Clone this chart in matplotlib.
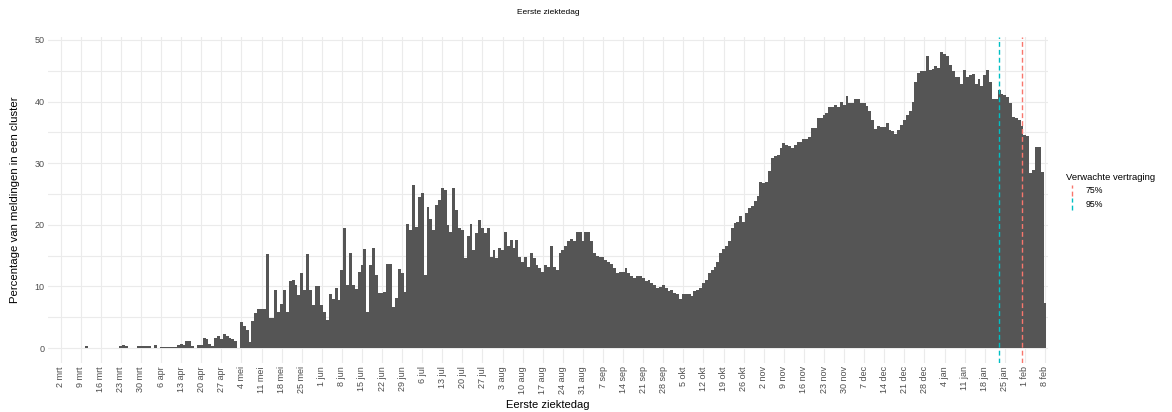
import pandas as pd
import matplotlib
matplotlib.use('Agg')
import matplotlib.pyplot as plt
from matplotlib.lines import Line2D
from matplotlib.legend_handler import HandlerBase

# Lettertype: Arial-achtig, met DejaVu als reserve
plt.rcParams['font.family'] = ['Liberation Sans', 'DejaVu Sans']

# ----------------------------------------
# Data: percentage meldingen in een cluster per eerste ziektedag
# ----------------------------------------
start_date = '2020-03-02'

pct = [
    0, 0, 0, 0, 0, 0, 0,                          # 2 mrt
    0, 0, 0.3, 0, 0, 0, 0,                        # 9 mrt
    0, 0, 0, 0, 0, 0, 0,                          # 16 mrt
    0.3, 0.45, 0.35, 0, 0, 0, 0.35,               # 23 mrt
    0.4, 0.4, 0.35, 0.3, 0, 0.5, 0,               # 30 mrt
    0.2, 0.2, 0.2, 0.2, 0.2, 0.2, 0.5,            # 6 apr
    0.6, 0.5, 1.2, 1.1, 0.3, 0, 0.5,              # 13 apr
    0.5, 1.6, 1.5, 0.7, 0.4, 1.7, 1.9,            # 20 apr
    1.5, 2.2, 1.9, 1.6, 1.4, 1.2, 0,              # 27 apr
    4.2, 3.6, 2.9, 0.9, 4.4, 5.7, 6.3,            # 4 mei
    6.3, 6.3, 15.2, 4.8, 4.8, 9.4, 5.9,           # 11 mei
    7.2, 9.4, 5.9, 10.8, 11.0, 10.2, 8.6,         # 18 mei
    12.2, 9.4, 15.2, 9.4, 7.0, 10.1, 10.1,        # 25 mei
    7.0, 5.9, 4.5, 8.8, 7.9, 9.7, 7.8,            # 1 jun
    12.6, 19.5, 10.2, 15.5, 10.2, 9.5, 12.4,      # 8 jun
    13.5, 16.0, 5.9, 13.5, 16.2, 11.8, 8.9,       # 15 jun
    8.9, 9.1, 13.7, 13.7, 6.6, 8.1, 12.9,         # 22 jun
    12.2, 9.1, 20.1, 19.1, 26.5, 19.7, 24.5,      # 29 jun
    25.2, 11.8, 22.9, 21.0, 19.1, 23.2, 24.0,     # 6 jul
    25.9, 25.6, 19.9, 18.9, 25.9, 22.4, 19.4,     # 13 jul
    19.1, 14.6, 18.2, 20.1, 15.9, 18.6, 20.8,     # 20 jul
    19.5, 18.6, 19.4, 14.8, 15.9, 14.6, 16.2,     # 27 jul
    15.9, 18.9, 16.5, 17.5, 16.2, 17.5, 14.8,     # 3 aug
    14.0, 14.8, 13.2, 15.4, 14.6, 13.5, 13.0,     # 10 aug
    12.4, 13.5, 13.2, 16.5, 13.2, 12.7, 15.4,     # 17 aug
    15.9, 16.5, 17.3, 17.7, 17.3, 18.9, 18.9,     # 24 aug
    17.3, 18.9, 18.9, 17.3, 15.4, 15.0, 14.7,     # 31 aug
    14.8, 14.3, 14.0, 13.7, 13.0, 12.2, 12.4,     # 7 sep
    12.4, 13.0, 12.2, 11.7, 11.3, 11.7, 11.7,     # 14 sep
    11.3, 10.8, 11.0, 10.5, 10.2, 9.7, 9.9,       # 21 sep
    10.2, 9.7, 9.2, 9.4, 9.0, 8.8, 7.9,           # 28 sep
    8.7, 8.7, 8.7, 8.4, 9.2, 9.4, 9.7,            # 5 okt
    10.5, 11.0, 12.1, 12.6, 13.2, 13.9, 15.4,     # 12 okt
    16.1, 16.5, 17.3, 19.4, 20.3, 20.5, 21.4,     # 19 okt
    20.5, 21.9, 22.7, 23.0, 23.8, 24.6, 26.9,     # 26 okt
    26.8, 27.0, 28.7, 30.8, 31.1, 31.4, 32.4,     # 2 nov
    33.2, 33.0, 32.8, 32.4, 33.0, 33.5, 33.4,     # 9 nov
    34.0, 33.9, 34.2, 35.7, 35.7, 37.3, 37.3,     # 16 nov
    37.8, 38.1, 39.2, 39.2, 39.5, 39.2, 40.0,     # 23 nov
    39.4, 40.9, 39.7, 39.8, 40.4, 40.4, 39.7,     # 30 nov
    39.7, 39.3, 38.4, 37.0, 35.5, 36.0, 35.8,     # 7 dec
    35.8, 36.5, 35.4, 35.3, 34.8, 35.4, 36.2,     # 14 dec
    37.0, 37.9, 38.4, 40.0, 43.2, 44.6, 44.9,     # 21 dec
    44.9, 47.4, 45.1, 45.3, 45.7, 45.5, 48.1,     # 28 dec
    47.7, 47.4, 45.9, 44.9, 44.0, 44.0, 42.9,     # 4 jan
    45.2, 44.0, 44.3, 44.5, 42.9, 43.6, 42.5,     # 11 jan
    44.3, 45.2, 43.2, 40.5, 40.5, 41.9, 41.3,     # 18 jan
    41.1, 40.8, 39.8, 37.5, 37.4, 37.0, 36.0,     # 25 jan
    34.6, 34.4, 28.4, 28.9, 32.7, 32.7, 28.6,     # 1 feb
    7.3,                                          # 8 feb
]

# Nederlandse maandafkortingen voor de x-as
maanden = ['jan', 'feb', 'mrt', 'apr', 'mei', 'jun',
           'jul', 'aug', 'sep', 'okt', 'nov', 'dec']

# Verwachte vertraging (verticale lijnen)
vertraging_datum = ['2021-01-31', '2021-01-23']
vertraging_label = ['75%', '95%']
vertraging_kleur = ['#F8766D', '#00BFC4']

assert len(pct) == 344
datums = pd.date_range(start_date, periods=len(pct), freq='D')


# Legenda-sleutel als verticale stippellijn (zoals geom_vline in ggplot)
class VerticaleLijn(HandlerBase):
    def create_artists(self, legend, orig_handle, xdescent, ydescent,
                       width, height, fontsize, trans):
        x = -xdescent + width / 2
        lijn = Line2D([x, x], [-ydescent, -ydescent + height])
        self.update_prop(lijn, orig_handle, legend)
        lijn.set_transform(trans)
        return [lijn]


# ----------------------------------------
# Grafiek
# ----------------------------------------
W, H = 1172, 412
fig = plt.figure(figsize=(W / 100, H / 100), dpi=100)
ax = fig.add_axes([48 / W, 1 - 362.8 / H, 1000 / W, 325.9 / H])

ax.bar(datums, pct, width=1.0, color='#555555', linewidth=0, zorder=2)

for d, lab, kl in zip(vertraging_datum, vertraging_label, vertraging_kleur):
    ax.axvline(pd.Timestamp(d), color=kl, linestyle=(0, (3.5, 2.2)),
               linewidth=1.0, label=lab, zorder=3)

# x-as: wekelijkse maandagen
ticks = pd.date_range(start_date, datums[-1], freq='7D')
ax.set_xticks(ticks)
ax.set_xticklabels([f'{t.day} {maanden[t.month - 1]}' for t in ticks],
                   rotation=90, fontsize=6.5, color='#4d4d4d')
ax.set_xlim(datums[0] - pd.Timedelta(days=4.4),
            datums[0] + pd.Timedelta(days=344.05))

# y-as
ax.set_ylim(-2.4, 50.5)
ax.set_yticks(range(0, 51, 10))
ax.set_yticks(range(5, 50, 10), minor=True)
ax.tick_params(axis='y', labelsize=6.5, labelcolor='#4d4d4d')
ax.tick_params(which='both', length=0, pad=2.5)

ax.grid(which='both', color='#ebebeb', linewidth=0.8, zorder=0)
ax.set_axisbelow(True)
for s in ax.spines.values():
    s.set_visible(False)

# Titels
fig.text(548 / W, 1 - 13 / H, 'Eerste ziektedag', ha='center', va='center',
         fontsize=6)
fig.text(548 / W, 1 - 405 / H, 'Eerste ziektedag', ha='center', va='center',
         fontsize=8)
fig.text(15 / W, 1 - 200 / H, 'Percentage van meldingen in een cluster',
         rotation=90, ha='center', va='center', fontsize=8.2)

# Legenda
handles, labels = ax.get_legend_handles_labels()
ax.legend(handles, labels, title='Verwachte vertraging',
          loc='upper left', bbox_to_anchor=(1066 / W, 1 - 173 / H),
          bbox_transform=fig.transFigure, frameon=False,
          fontsize=6.3, title_fontsize=6.8, alignment='left',
          handlelength=1.3, handleheight=1.6, handletextpad=0.9,
          labelspacing=0.3, borderpad=0, borderaxespad=0,
          handler_map={Line2D: VerticaleLijn()})

fig.savefig('out.png', dpi=100)
